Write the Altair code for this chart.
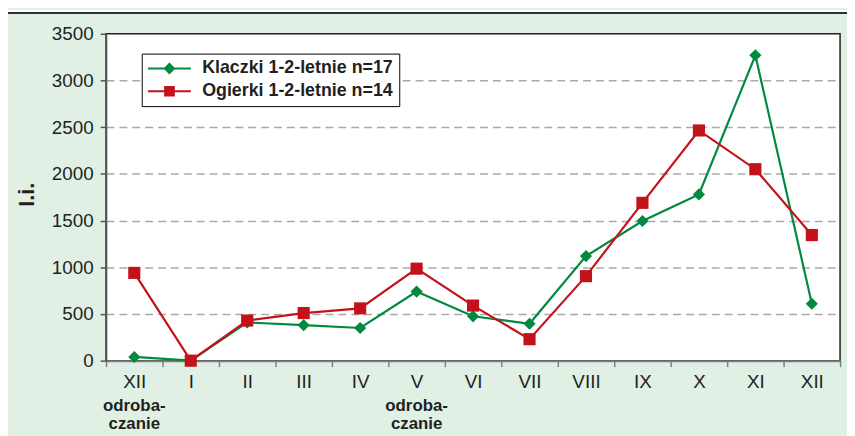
import altair as alt
import pandas as pd

# ---- data ----
month_keys = ["XII_0", "I", "II", "III", "IV", "V", "VI", "VII", "VIII", "IX", "X", "XI", "XII_12"]
klaczki = [40, 0, 410, 380, 350, 740, 475, 395, 1120, 1495, 1780, 3270, 610]
ogierki = [940, 0, 430, 510, 560, 985, 590, 230, 905, 1690, 2465, 2050, 1345]
series_names = ["Klaczki 1-2-letnie n=17", "Ogierki 1-2-letnie n=14"]
series_colors = ["#00893f", "#c3121c"]
note_months = ["XII_0", "V"]
note_line1 = "odroba-"
note_line2 = "czanie"
y_ticks = [0, 500, 1000, 1500, 2000, 2500, 3000, 3500]

df_k = pd.DataFrame({"m": month_keys, "v": klaczki, "s": series_names[0]})
df_o = pd.DataFrame({"m": month_keys, "v": ogierki, "s": series_names[1]})
df_leg = pd.DataFrame({"s": series_names})
notes = pd.DataFrame({"m": note_months})

W, H = 741, 330
FONT = "Liberation Sans"
TXT = "#231f20"

xenc = alt.X("m:N", sort=month_keys, bandPosition=0.5,
             scale=alt.Scale(type="band", domain=month_keys, paddingInner=0, paddingOuter=0),
             axis=alt.Axis(title=None, labelExpr="split(datum.label, '_')[0]", tickBand="extent",
                           labelFontSize=19, labelFont=FONT, labelColor=TXT, labelPadding=6,
                           domainColor="#7f7f7f", domainWidth=2, tickColor="#7f7f7f", tickWidth=1.5,
                           tickSize=6, grid=False, labelAngle=0))
yenc = alt.Y("v:Q", scale=alt.Scale(domain=[0, 3500], nice=False),
             axis=alt.Axis(title="I.i.", values=y_ticks, format="d", labelFontSize=19, labelFont=FONT,
                           labelColor=TXT, labelPadding=7, tickSize=6, tickColor="#555555", tickWidth=1.5,
                           domainColor="#555555", domainWidth=1.5,
                           grid=True, gridDash=[8, 5], gridWidth=1.5,
                           gridColor=alt.condition("datum.value == 0 || datum.value == 3500",
                                                   alt.value("transparent"), alt.value("#a9a9a9")),
                           titleFontSize=22, titleFont=FONT, titleFontWeight="bold", titleColor=TXT,
                           titleX=-80, titleY=162, titleAngle=270, titleAlign="center",
                           titleBaseline="middle"))

lines_k = alt.Chart(df_k).mark_line(strokeWidth=2.2, color=series_colors[0]).encode(x=xenc, y=yenc)
pts_k = alt.Chart(df_k).mark_point(shape="diamond", filled=True, size=150, opacity=1,
                                   color=series_colors[0]).encode(x=xenc, y=yenc)
lines_o = alt.Chart(df_o).mark_line(strokeWidth=2.2, color=series_colors[1]).encode(x=xenc, y=yenc)
pts_o = alt.Chart(df_o).mark_point(shape="square", filled=True, size=150, opacity=1,
                                   color=series_colors[1]).encode(x=xenc, y=yenc)

# legend-only layer (its marks are clipped away outside the plot)
path_diamond = "M-3.6,-0.17H3.6V0.17H-3.6Z M0,-1L1,0L0,1L-1,0Z"
path_square = "M-3.6,-0.17H3.6V0.17H-3.6Z M-0.9,-0.9H0.9V0.9H-0.9Z"
leg_props = dict(title=None, orient="none", legendX=36, legendY=20, padding=6,
                 strokeColor="#000000", fillColor="#ffffff",
                 labelFont=FONT, labelFontSize=18, labelFontWeight="bold", labelColor=TXT,
                 symbolSize=144, symbolOffset=13, labelOffset=24, rowPadding=5,
                 symbolStrokeWidth=0, labelLimit=400)
leg = alt.Chart(df_leg).mark_point(filled=True, clip=True, opacity=1).encode(
    x=alt.value(-500), y=alt.value(-500),
    color=alt.Color("s:N", scale=alt.Scale(domain=series_names, range=series_colors),
                    legend=alt.Legend(**leg_props)),
    shape=alt.Shape("s:N", scale=alt.Scale(domain=series_names, range=[path_diamond, path_square]),
                    legend=alt.Legend(**leg_props)))

note1 = alt.Chart(notes).mark_text(font=FONT, fontSize=17, fontWeight="bold", color=TXT,
                                   baseline="alphabetic", align="center", text=note_line1).encode(
    x=xenc, y=alt.value(381))
note2 = alt.Chart(notes).mark_text(font=FONT, fontSize=17, fontWeight="bold", color=TXT,
                                   baseline="alphabetic", align="center", text=note_line2).encode(
    x=xenc, y=alt.value(399))

# top frame: white strip and dark border line above the green panel
strip = alt.Chart(notes).mark_rect(color="#ffffff").encode(
    x=alt.value(-99), x2=alt.value(760), y=alt.value(-24), y2=alt.value(-21))
frame = alt.Chart(notes).mark_rule(color="#231f20", strokeWidth=1.5).encode(
    x=alt.value(-99), x2=alt.value(760), y=alt.value(-21))

chart = alt.layer(strip, frame, lines_k, pts_k, lines_o, pts_o, leg, note1, note2).properties(
    width=W, height=H,
    autosize=alt.AutoSizeParams(type="none"),
    padding={"left": 99, "top": 24, "right": 7, "bottom": 74},
    background="#e1f0e5",
).configure_view(fill="#ffffff", stroke="#231f20", strokeWidth=1.5)

chart.save("out.html", embed_options={"renderer": "svg", "actions": False})
